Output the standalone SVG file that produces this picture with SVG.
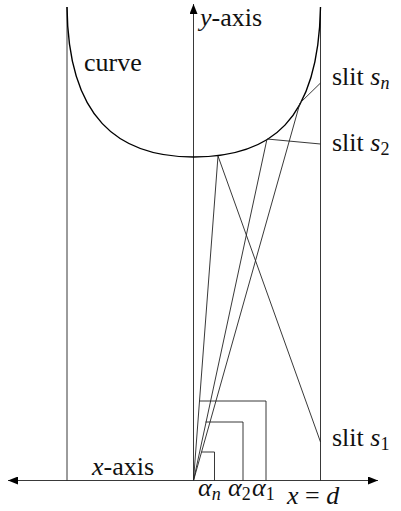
<svg xmlns="http://www.w3.org/2000/svg" width="401" height="511" viewBox="0 0 401 511">
<defs>
<marker id="ah" markerWidth="10" markerHeight="8" refX="10" refY="4" orient="auto" markerUnits="userSpaceOnUse">
<path d="M0,0 L10,4 L0,8 Z" fill="#000"/>
</marker>
</defs>
<g fill="none" stroke="#222" stroke-width="0.9">
<g id="axes">
<line x1="193.5" y1="480.5" x2="8" y2="480.5" marker-end="url(#ah)"/>
<line x1="193.5" y1="480.5" x2="378" y2="480.5" marker-end="url(#ah)"/>
<line x1="193.5" y1="480.5" x2="193.5" y2="4" marker-end="url(#ah)"/>
</g>
<g id="walls">
<line x1="67" y1="7" x2="67" y2="480.5"/>
<line x1="320.5" y1="7" x2="320.5" y2="480.5"/>
</g>
<g id="curve">
<path stroke="#000" stroke-width="1.4" d="M67,7 C68,118 118,157 193.5,157 C270,157 318.5,122 320.5,7"/>
</g>
<g id="connectors">
<polyline points="193.5,480.5 218,156 320.5,442"/>
<polyline points="193.5,480.5 267,139 320.5,144"/>
<polyline points="193.5,480.5 300,103 320.5,83"/>
</g>
<g id="angles">
<polyline points="199.5,401 266,401 266,480.5"/>
<polyline points="205.5,422 243,422 243,480.5"/>
<polyline points="201.5,452 214.5,452 214.5,480.5"/>
</g>
</g>
<g id="labels" fill="#111" font-family="Liberation Serif, Times New Roman, serif" font-size="26">
<text x="84" y="71" font-family="Times New Roman">curve</text>
<text x="200" y="26" font-family="Times New Roman"><tspan font-style="italic">y</tspan>-axis</text>
<text x="92" y="475" font-family="Times New Roman"><tspan font-style="italic">x</tspan>-axis</text>
<text x="332" y="85" font-family="Times New Roman">slit <tspan font-style="italic">s</tspan><tspan font-style="italic" font-size="18" dy="4">n</tspan></text>
<text x="332" y="151" font-family="Times New Roman">slit <tspan font-style="italic">s</tspan><tspan font-size="18" dy="4">2</tspan></text>
<text x="332" y="446" font-family="Times New Roman">slit <tspan font-style="italic">s</tspan><tspan font-size="18" dy="4">1</tspan></text>
<text x="198" y="496" font-family="Times New Roman"><tspan font-style="italic">α</tspan><tspan font-style="italic" font-size="18" dy="4">n</tspan></text>
<text x="228" y="496" font-family="Times New Roman"><tspan font-style="italic">α</tspan><tspan font-size="18" dy="4">2</tspan></text>
<text x="252" y="496" font-family="Times New Roman"><tspan font-style="italic">α</tspan><tspan font-size="18" dy="4">1</tspan></text>
<text x="287" y="504" font-family="Times New Roman"><tspan font-style="italic">x</tspan> = <tspan font-style="italic">d</tspan></text>
</g>
</svg>
